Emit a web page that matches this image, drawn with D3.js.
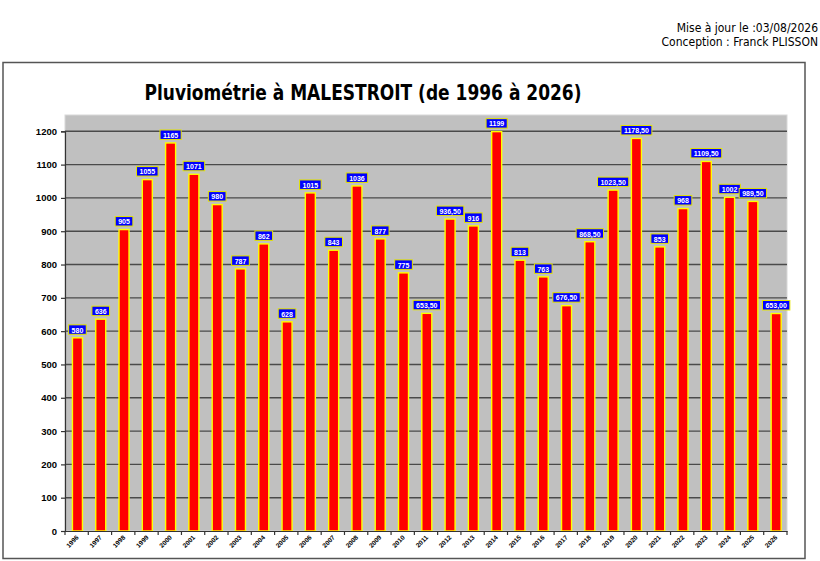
<!DOCTYPE html>
<html>
<head>
<meta charset="utf-8">
<script src="https://cdn.jsdelivr.net/npm/d3@7"></script>
<style>
  body { margin: 0; background: #fff; overflow: hidden; }
  svg { display: block; }
</style>
</head>
<body>
<svg id="chart"></svg>
<script>
const years = ["1996","1997","1998","1999","2000","2001","2002","2003","2004","2005",
  "2006","2007","2008","2009","2010","2011","2012","2013","2014","2015",
  "2016","2017","2018","2019","2020","2021","2022","2023","2024","2025","2026"];
const rainfall = [580, 636, 905, 1055, 1165, 1071, 980, 787, 862, 628,
  1015, 843, 1036, 877, 775, 653.5, 936.5, 916, 1199, 813,
  763, 676.5, 868.5, 1023.5, 1178.5, 853, 968, 1109.5, 1002, 989.5, 653];
const valueLabels = ["580","636","905","1055","1165","1071","980","787","862","628",
  "1015","843","1036","877","775","653,50","936,50","916","1199","813",
  "763","676,50","868,50","1023,50","1178,50","853","968","1109,50","1002","989,50","653,00"];
const yTicks = [0, 100, 200, 300, 400, 500, 600, 700, 800, 900, 1000, 1100, 1200];

const width = 820, height = 561;
const svg = d3.select('#chart').attr('width', width).attr('height', height);

// header text, top right
svg.append('text')
  .attr('x', 818).attr('y', 32)
  .attr('text-anchor', 'end')
  .attr('font-family', '"Liberation Sans Narrow", "DejaVu Sans Condensed", sans-serif')
  .attr('font-size', 12).attr('fill', '#000')
  .text('Mise à jour le :03/08/2026');
svg.append('text')
  .attr('x', 818).attr('y', 46)
  .attr('text-anchor', 'end')
  .attr('font-family', '"Liberation Sans Narrow", "DejaVu Sans Condensed", sans-serif')
  .attr('font-size', 12).attr('fill', '#000')
  .text('Conception : Franck PLISSON');

// chart frame
svg.append('rect')
  .attr('x', 3).attr('y', 62.5).attr('width', 802).attr('height', 496)
  .attr('fill', '#fff').attr('stroke', '#555').attr('stroke-width', 1.5);

svg.append('text')
  .attr('x', 363).attr('y', 100)
  .attr('text-anchor', 'middle')
  .attr('font-family', '"DejaVu Sans Condensed", "Liberation Sans Narrow", sans-serif')
  .attr('font-weight', 'bold')
  .attr('font-size', 21)
  .attr('textLength', 437).attr('lengthAdjust', 'spacingAndGlyphs')
  .text('Pluviométrie à MALESTROIT (de 1996 à 2026)');

const plot = { left: 65, right: 787, top: 115, bottom: 531 };

const x = d3.scaleBand().domain(years).range([plot.left, plot.right]).padding(0);
const y = d3.scaleLinear().domain([0, 1200]).range([plot.bottom, 131.3]);

svg.append('rect')
  .attr('x', plot.left).attr('y', plot.top)
  .attr('width', plot.right - plot.left).attr('height', plot.bottom - plot.top)
  .attr('fill', '#c0c0c0').attr('stroke', '#d8d8d8').attr('stroke-width', 1);

// gridlines
svg.append('g')
  .selectAll('line')
  .data(yTicks.filter(d => d > 0))
  .join('line')
  .attr('x1', plot.left).attr('x2', plot.right)
  .attr('y1', d => y(d)).attr('y2', d => y(d))
  .attr('stroke', '#4a4a4a').attr('stroke-width', 1.4);

// bars
const barW = 10;
svg.append('g')
  .selectAll('rect')
  .data(rainfall)
  .join('rect')
  .attr('x', (d, i) => x(years[i]) + x.bandwidth() / 2 - barW / 2 + 0.8)
  .attr('y', d => y(d))
  .attr('width', barW)
  .attr('height', d => plot.bottom - y(d))
  .attr('fill', '#ff0000')
  .attr('stroke', '#ffff00')
  .attr('stroke-width', 1.4);

// axes
const yAxis = d3.axisLeft(y).tickValues(yTicks).tickFormat(d3.format('d')).tickSize(4).tickPadding(4);
svg.append('g')
  .attr('transform', `translate(${plot.left},0)`)
  .call(yAxis)
  .call(g => g.select('.domain').attr('stroke', '#333').attr('stroke-width', 1.2))
  .call(g => g.selectAll('.tick line').attr('stroke', '#333').attr('stroke-width', 1.2))
  .call(g => g.selectAll('text')
    .attr('font-family', '"Liberation Sans", Arial, sans-serif')
    .attr('font-weight', 'bold').attr('font-size', 9.5).attr('fill', '#000'));

const xAxis = d3.axisBottom(x).tickSize(0).tickFormat('');
const xg = svg.append('g')
  .attr('transform', `translate(0,${plot.bottom})`)
  .call(xAxis)
  .call(g => g.select('.domain').attr('stroke', '#333').attr('stroke-width', 1.2));

// tick marks between categories
xg.selectAll('.sep')
  .data(years.concat(['end']))
  .join('line')
  .attr('class', 'sep')
  .attr('x1', (d, i) => plot.left + i * x.bandwidth())
  .attr('x2', (d, i) => plot.left + i * x.bandwidth())
  .attr('y1', 0).attr('y2', 4)
  .attr('stroke', '#333').attr('stroke-width', 1.2);

svg.append('g')
  .selectAll('text')
  .data(years)
  .join('text')
  .attr('transform', d => `translate(${x(d) + x.bandwidth() / 2 + 2.5},${plot.bottom + 7}) rotate(-45)`)
  .attr('text-anchor', 'end')
  .attr('font-family', '"Liberation Sans", Arial, sans-serif')
  .attr('font-weight', 'bold')
  .attr('font-size', 6.5)
  .attr('fill', '#000')
  .text(d => d);

// value labels
const labels = svg.append('g')
  .selectAll('g')
  .data(rainfall)
  .join('g')
  .attr('transform', (d, i) => `translate(${x(years[i]) + x.bandwidth() / 2 + 0.8},${y(d) - 3})`);

labels.append('text')
  .attr('text-anchor', 'middle')
  .attr('y', -2.2)
  .attr('font-family', '"Liberation Sans", Arial, sans-serif')
  .attr('font-weight', 'bold')
  .attr('font-size', 7)
  .attr('fill', '#fff')
  .text((d, i) => valueLabels[i]);

labels.each(function () {
  const g = d3.select(this);
  const w = g.select('text').node().getComputedTextLength();
  g.insert('rect', 'text')
    .attr('x', -w / 2 - 3).attr('y', -10)
    .attr('width', w + 6).attr('height', 9.5)
    .attr('fill', '#0000ff')
    .attr('stroke', '#e6e600')
    .attr('stroke-width', 1);
});
</script>
</body>
</html>
